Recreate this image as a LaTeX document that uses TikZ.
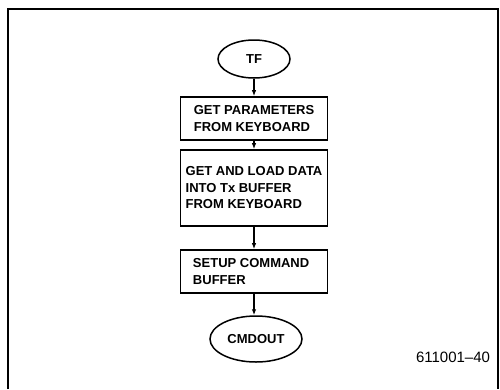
\documentclass[tikz,border=0pt]{standalone}
\usepackage{fontspec}
\setmainfont{Liberation Sans}
\usetikzlibrary{shapes.geometric,arrows.meta}
\begin{document}
\begin{tikzpicture}[x=1pt,y=-1pt,
  frame/.style={line width=1.6pt},
  term/.style={draw,ellipse,line width=1.5pt,inner sep=0pt,font=\bfseries\fontsize{13}{15}\selectfont},
  procbox/.style={draw,rectangle,line width=1.7pt,minimum width=147pt,inner sep=0pt,align=left,font=\bfseries\fontsize{13}{16.5}\selectfont},
  flow/.style={line width=1.1pt,-{Latex[length=6pt,width=4.5pt]}}]
\useasboundingbox (0,0) rectangle (500,389);
\draw[frame] (8,389) -- (8,9) -- (498,9) -- (498,389);
\node[term,minimum width=72pt,minimum height=38pt] (tf) at (254,59) {TF};
\node[procbox,minimum height=43pt] (b1) at (254,118.5) {GET PARAMETERS\\FROM KEYBOARD};
\node[procbox,minimum height=76pt] (b2) at (254,188) {GET AND LOAD DATA\\INTO Tx BUFFER\\FROM KEYBOARD};
\node[procbox,minimum height=43pt] (b3) at (254,271.5) {SETUP COMMAND\\BUFFER\phantom{COMMAND}};
\node[term,minimum width=92pt,minimum height=46pt] (cmd) at (256,339) {CMDOUT};
\draw[flow] (tf) -- (b1);
\draw[flow] (b1) -- (b2);
\draw[flow] (b2) -- (b3);
\draw[flow] (b3.south) -- (b3.south |- cmd.north);
\node[font=\fontsize{15}{17}\selectfont] (lbl) at (453,357) {611001--40};
\end{tikzpicture}
\end{document}
